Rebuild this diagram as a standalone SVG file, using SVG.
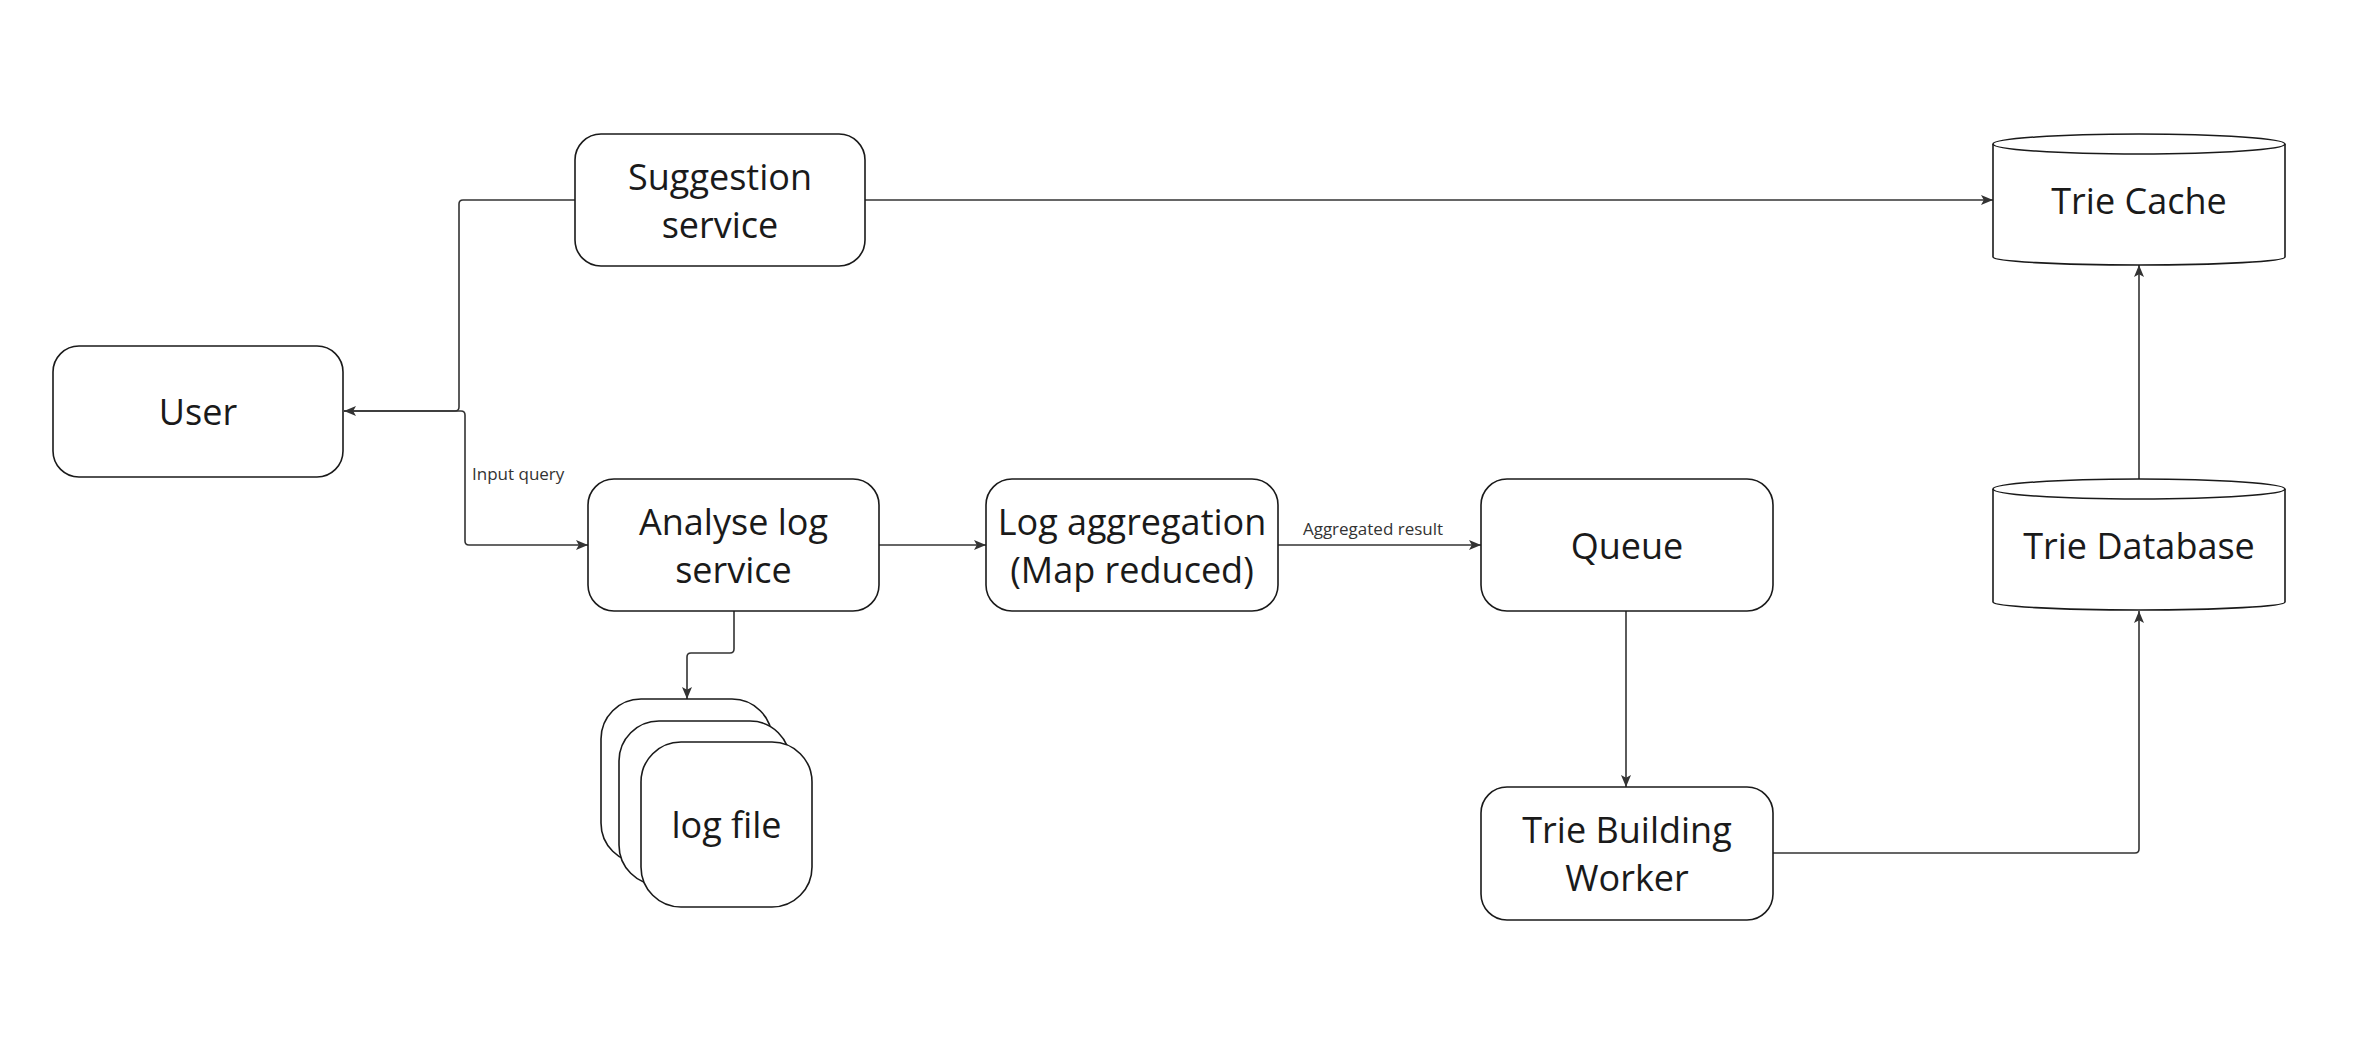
<svg xmlns="http://www.w3.org/2000/svg" width="2360" height="1041" viewBox="0 0 2360 1041">
<style>
.box{fill:#fff;stroke:#1a1a1a;stroke-width:1.6}
.t{font-family:"Open Sans","Noto Sans","DejaVu Sans",sans-serif;font-size:36px;fill:#1a1a1a;text-anchor:middle}
.lbl{font-family:"Open Sans","Noto Sans","DejaVu Sans",sans-serif;font-size:17px;fill:#333}
.c{fill:none;stroke:#333;stroke-width:1.6}
</style>
<defs>
<marker id="ah" markerUnits="userSpaceOnUse" markerWidth="13" markerHeight="13" viewBox="0 0 13 13" refX="12" refY="6.5" orient="auto">
<path d="M0,1.5 L12,6.5 L0,11.5 L2.8,6.5 Z" fill="#333"/>
</marker>
</defs>
<rect width="2360" height="1041" fill="#fff"/>
<g id="connectors">
<path class="c" d="M575,200 H463 Q459,200 459,204 V407 Q459,411 455,411 H344" marker-end="url(#ah)"/>
<path class="c" d="M344,411 H461 Q465,411 465,415 V541 Q465,545 469,545 H588" marker-end="url(#ah)"/>
<path class="c" d="M865,200 H1993" marker-end="url(#ah)"/>
<path class="c" d="M879,545 H986" marker-end="url(#ah)"/>
<path class="c" d="M1278,545 H1481" marker-end="url(#ah)"/>
<path class="c" d="M734,611 V649 Q734,653 730,653 H691 Q687,653 687,657 V699" marker-end="url(#ah)"/>
<path class="c" d="M1626,611 V787" marker-end="url(#ah)"/>
<path class="c" d="M1773,853 H2135 Q2139,853 2139,849 V611" marker-end="url(#ah)"/>
<path class="c" d="M2139,479 V265" marker-end="url(#ah)"/>
<text class="lbl" x="472" y="480">Input query</text>
<text class="lbl" x="1373" y="535" text-anchor="middle">Aggregated result</text>
</g>
<g id="user">
<rect class="box" x="53" y="346" width="290" height="131" rx="26"/>
<text class="t" x="198" y="425">User</text>
</g>
<g id="suggestion-service">
<rect class="box" x="575" y="134" width="290" height="132" rx="26"/>
<text class="t" x="720" y="190">Suggestion</text>
<text class="t" x="720" y="238">service</text>
</g>
<g id="analyse-log-service">
<rect class="box" x="588" y="479" width="291" height="132" rx="26"/>
<text class="t" x="733.5" y="535">Analyse log</text>
<text class="t" x="733.5" y="583">service</text>
</g>
<g id="log-aggregation">
<rect class="box" x="986" y="479" width="292" height="132" rx="26"/>
<text class="t" x="1132" y="535">Log aggregation</text>
<text class="t" x="1132" y="583">(Map reduced)</text>
</g>
<g id="queue">
<rect class="box" x="1481" y="479" width="292" height="132" rx="26"/>
<text class="t" x="1627" y="559">Queue</text>
</g>
<g id="trie-building-worker">
<rect class="box" x="1481" y="787" width="292" height="133" rx="26"/>
<text class="t" x="1627" y="843">Trie Building</text>
<text class="t" x="1627" y="891">Worker</text>
</g>
<g id="log-file">
<rect class="box" x="601" y="699" width="171" height="164" rx="40"/>
<rect class="box" x="619" y="721" width="171" height="164" rx="40"/>
<rect class="box" x="641" y="742" width="171" height="165" rx="40"/>
<text class="t" x="726.5" y="838">log file</text>
</g>
<g id="trie-cache">
<path class="box" d="M1993,144 V257 A146,8 0 0 0 2285,257 V144"/>
<ellipse class="box" cx="2139" cy="144" rx="146" ry="10"/>
<text class="t" x="2139" y="214">Trie Cache</text>
</g>
<g id="trie-database">
<path class="box" d="M1993,489 V602 A146,8 0 0 0 2285,602 V489"/>
<ellipse class="box" cx="2139" cy="489" rx="146" ry="10"/>
<text class="t" x="2139" y="559">Trie Database</text>
</g>
</svg>
